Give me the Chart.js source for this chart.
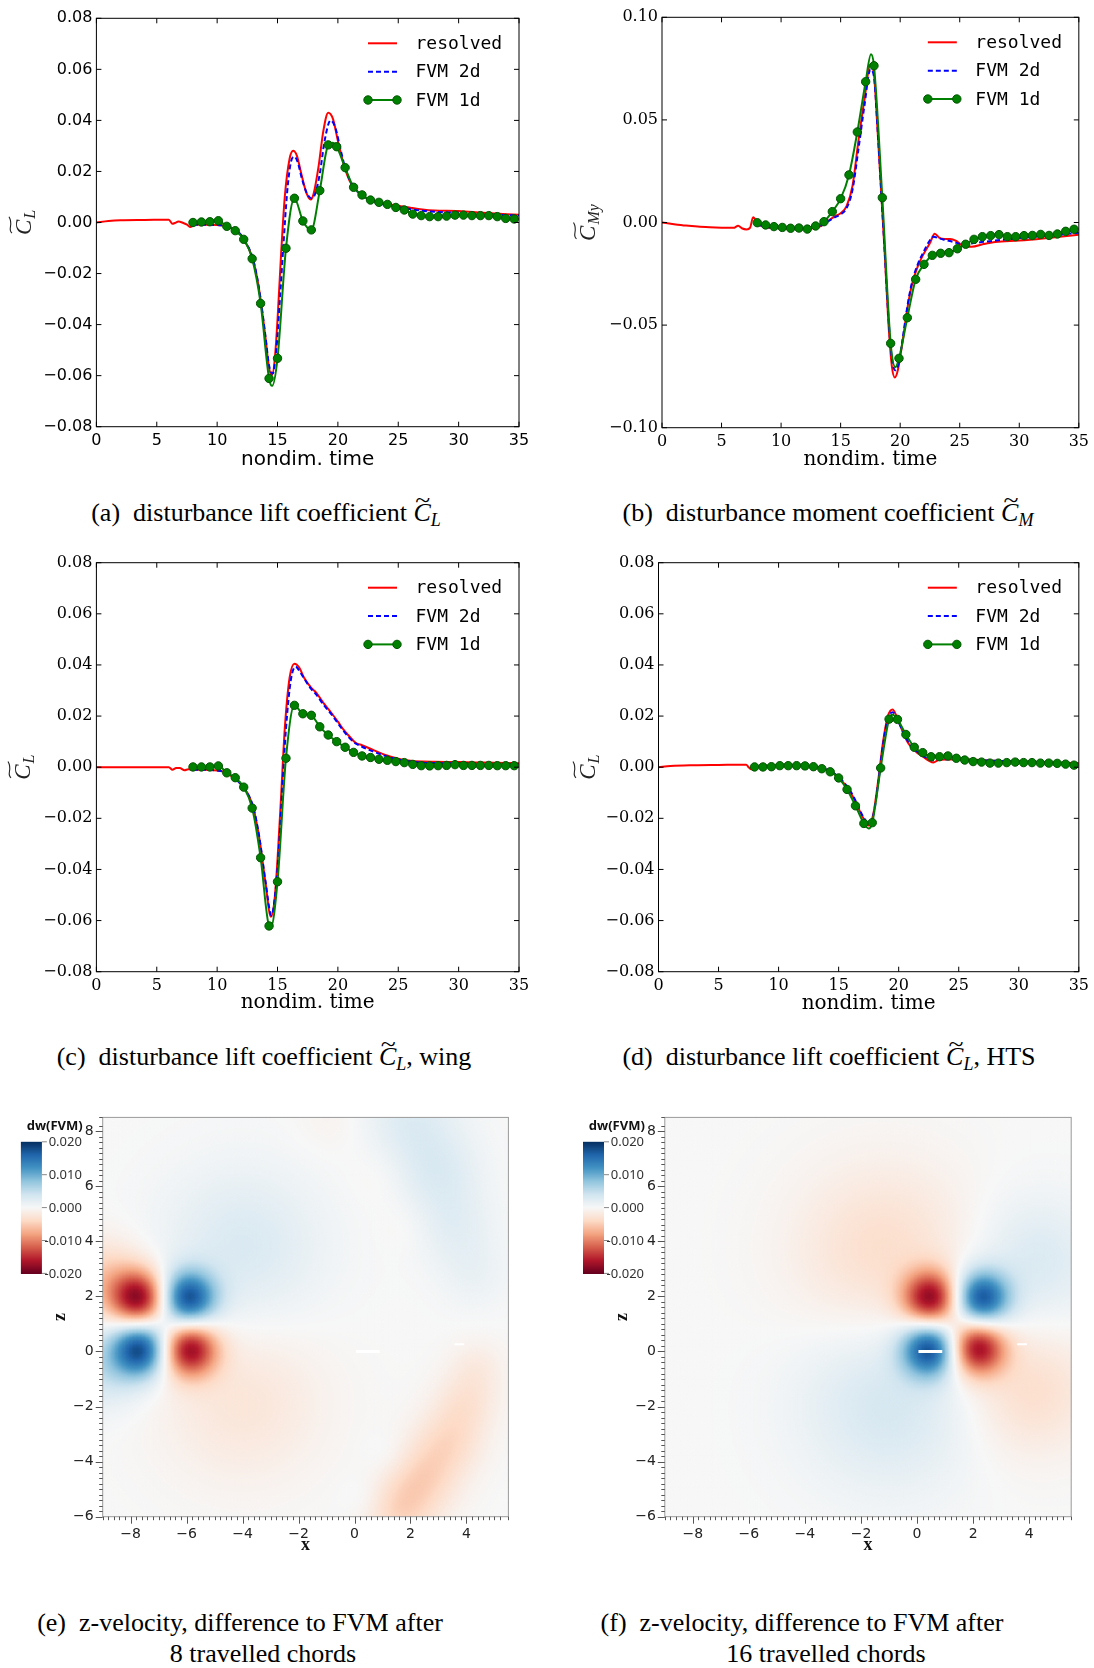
<!DOCTYPE html>
<html>
<head>
<meta charset="utf-8">
<title>disturbance coefficients</title>
<script src="https://cdn.jsdelivr.net/npm/chart.js@4.4.1/dist/chart.umd.min.js"></script>
<style>
  body { margin: 0; background: #fff; }
  #page { position: relative; width: 1094px; height: 1668px; overflow: hidden; background: #fff; }
  .box { position: absolute; }
  .cap { position: absolute; font-family: "Liberation Serif", "Times New Roman", serif; font-size: 26px; line-height: 30px; white-space: nowrap; transform: translateX(-50%); color: #000; }
  .cap sub { font-size: 18px; vertical-align: -5px; line-height: 0; }
  .tc { position: relative; display: inline-block; }
  .tc .tl { position: absolute; left: 3px; top: -13px; font-style: normal; font-size: 24px; transform: scaleX(1.15); }
</style>
</head>
<body>
<div id="page">
  <div class="box" style="left:0;top:0;width:547px;height:480px"><canvas id="chartA"></canvas></div>
  <div class="box" style="left:547px;top:0;width:547px;height:480px"><canvas id="chartB"></canvas></div>
  <div class="box" style="left:0;top:540px;width:547px;height:480px"><canvas id="chartC"></canvas></div>
  <div class="box" style="left:547px;top:540px;width:547px;height:480px"><canvas id="chartD"></canvas></div>
  <div class="box" style="left:0;top:1100px;width:547px;height:470px"><canvas id="chartE"></canvas></div>
  <div class="box" style="left:547px;top:1100px;width:547px;height:470px"><canvas id="chartF"></canvas></div>

  <div class="cap" style="left:266px;top:498px">(a)&nbsp; disturbance lift coefficient <span class="tc"><i>C</i><span class="tl">~</span></span><sub><i>L</i></sub></div>
  <div class="cap" style="left:828px;top:498px">(b)&nbsp; disturbance moment coefficient <span class="tc"><i>C</i><span class="tl">~</span></span><sub><i>M</i></sub></div>
  <div class="cap" style="left:264px;top:1042px">(c)&nbsp; disturbance lift coefficient <span class="tc"><i>C</i><span class="tl">~</span></span><sub><i>L</i></sub>, wing</div>
  <div class="cap" style="left:829px;top:1042px">(d)&nbsp; disturbance lift coefficient <span class="tc"><i>C</i><span class="tl">~</span></span><sub><i>L</i></sub>, HTS</div>
  <div class="cap" style="left:240px;top:1608px">(e)&nbsp; z-velocity, difference to FVM after</div>
  <div class="cap" style="left:263px;top:1639px">8 travelled chords</div>
  <div class="cap" style="left:802px;top:1608px">(f)&nbsp; z-velocity, difference to FVM after</div>
  <div class="cap" style="left:826px;top:1639px">16 travelled chords</div>
</div>

<script>
// FVM 1d output times (markers)
var markerT = [8.0, 8.7, 9.4, 10.1, 10.8, 11.5, 12.2, 12.9, 13.6, 14.3, 15.0, 15.7, 16.4, 17.1, 17.8, 18.5, 19.2, 19.9, 20.6,
  21.3, 22.0, 22.7, 23.4, 24.1, 24.8, 25.5, 26.2, 26.9, 27.6, 28.3, 29.0, 29.7, 30.4, 31.1, 31.8, 32.5, 33.2, 33.9, 34.6];

// (a) lift
var resTA = [0, 1, 2, 4, 6.0, 6.3, 6.5, 6.8, 7.2, 7.5, 7.8, 8.2, 9, 10, 11, 11.5, 12, 12.5, 13, 13.5, 14, 14.3, 14.55, 14.8, 15.0,
  15.3, 15.6, 16.0, 16.3, 16.6, 17.0, 17.4, 17.75, 18.0, 18.4, 18.8, 19.2, 19.6, 20.0, 20.5, 21.0, 21.5, 22, 23, 24, 25, 26, 27, 28, 30, 32, 35];
var resA = [0, 0.0006, 0.0009, 0.0010, 0.0011, -0.0005, -0.0002, 0.0004, -0.0002, -0.0008, -0.0018, -0.0008, -0.0009, -0.0010, -0.0016,
  -0.0030, -0.0050, -0.0090, -0.0150, -0.0270, -0.0450, -0.0570, -0.0598, -0.0520, -0.0380, -0.0120, 0.0100, 0.0250, 0.0281, 0.0262,
  0.0185, 0.0115, 0.0090, 0.0115, 0.0220, 0.0360, 0.0430, 0.0405, 0.0320, 0.0225, 0.0160, 0.0128, 0.0105, 0.0082, 0.0073, 0.0066,
  0.0058, 0.0051, 0.0047, 0.0045, 0.0038, 0.0030];
var fvm2TA = [8.0, 9, 10, 11, 11.5, 12, 12.5, 13, 13.5, 14, 14.3, 14.6, 14.9, 15.2, 15.5, 15.8, 16.1, 16.4, 16.7, 17.0, 17.4, 17.8,
  18.1, 18.5, 18.9, 19.4, 19.8, 20.2, 20.6, 21.0, 21.5, 22, 23, 24, 25, 26, 27, 28, 30, 32, 35];
var fvm2A = [-0.0008, -0.0009, -0.0010, -0.0016, -0.0030, -0.0050, -0.0088, -0.0148, -0.0268, -0.0445, -0.0560, -0.0592, -0.0500,
  -0.0300, -0.0080, 0.0120, 0.0235, 0.0258, 0.0232, 0.0175, 0.0118, 0.0095, 0.0110, 0.0190, 0.0320, 0.0400, 0.0370, 0.0290, 0.0215,
  0.0165, 0.0128, 0.0104, 0.0080, 0.0068, 0.0060, 0.0052, 0.0046, 0.0042, 0.0038, 0.0033, 0.0027];
var fvm1A = [0.0000, 0.0002, 0.0003, 0.0007, -0.0015, -0.0032, -0.0066, -0.0142, -0.0317, -0.0611, -0.0532, -0.0101, 0.0095, 0.0006,
  -0.0029, 0.0125, 0.0304, 0.0297, 0.0215, 0.0138, 0.0108, 0.0088, 0.0079, 0.0071, 0.0059, 0.0049, 0.0033, 0.0027, 0.0023, 0.0023,
  0.0025, 0.0029, 0.0029, 0.0027, 0.0027, 0.0027, 0.0023, 0.0016, 0.0014];
var fvm1ExtraTA = [14.55, 19.55];
var fvm1ExtraA = [-0.0640, 0.0312];

// (b) moment
var resTB = [0, 1, 2, 3, 4, 5, 6.0, 6.4, 6.7, 7.1, 7.4, 7.65, 7.9, 8.2, 8.6, 9, 10, 11, 12, 13, 13.5, 14, 14.5, 15, 15.5, 16.0, 16.5,
  17.0, 17.5, 17.8, 18.1, 18.4, 18.7, 19.0, 19.3, 19.55, 19.8, 20.2, 20.6, 21.0, 21.5, 22.0, 22.5, 22.9, 23.3, 23.7, 24.2, 24.7, 25.2,
  26, 27, 28, 30, 32, 35];
var resB = [0, -0.0008, -0.0015, -0.0020, -0.0023, -0.0025, -0.0026, -0.0016, -0.0028, -0.0034, -0.0025, 0.0025, 0.0010, -0.0012,
  -0.0022, -0.0026, -0.0028, -0.0030, -0.0030, -0.0025, -0.0012, 0.0010, 0.0030, 0.0045, 0.0080, 0.0180, 0.0400, 0.0600, 0.0770,
  0.0720, 0.0450, 0.0150, -0.0150, -0.0480, -0.0700, -0.0755, -0.0720, -0.0580, -0.0420, -0.0300, -0.0210, -0.0150, -0.0100, -0.0055,
  -0.0075, -0.0080, -0.0080, -0.0090, -0.0112, -0.0118, -0.0105, -0.0095, -0.0088, -0.0078, -0.0060];
var fvm2TB = [8.0, 9, 10, 11, 12, 13, 13.5, 14, 14.5, 15, 15.5, 16.0, 16.5, 17.0, 17.5, 17.8, 18.1, 18.4, 18.7, 19.0, 19.3, 19.6,
  19.9, 20.2, 20.6, 21.0, 21.5, 22.0, 22.4, 22.8, 23.3, 23.8, 24.5, 25.2, 26, 27, 28, 30, 32, 35];
var fvm2B = [-0.0010, -0.0024, -0.0027, -0.0029, -0.0029, -0.0024, -0.0012, 0.0008, 0.0025, 0.0040, 0.0070, 0.0160, 0.0360, 0.0570,
  0.0745, 0.0710, 0.0460, 0.0160, -0.0140, -0.0450, -0.0660, -0.0720, -0.0680, -0.0570, -0.0410, -0.0290, -0.0200, -0.0140, -0.0095,
  -0.0070, -0.0078, -0.0085, -0.0095, -0.0105, -0.0102, -0.0094, -0.0088, -0.0076, -0.0066, -0.0050];
var fvm1B = [-0.0001, -0.0012, -0.0020, -0.0024, -0.0028, -0.0027, -0.0032, -0.0017, 0.0004, 0.0053, 0.0116, 0.0232, 0.0441, 0.0686,
  0.0764, 0.0121, -0.0589, -0.0662, -0.0464, -0.0277, -0.0204, -0.0160, -0.0150, -0.0147, -0.0128, -0.0106, -0.0082, -0.0069, -0.0064,
  -0.0059, -0.0069, -0.0069, -0.0064, -0.0063, -0.0058, -0.0063, -0.0056, -0.0043, -0.0033];
var fvm1ExtraTB = [17.55, 19.6];
var fvm1ExtraB = [0.0820, -0.0705];

// (c) lift, wing
var resTC = [0, 2, 4, 6.0, 6.3, 6.6, 6.9, 7.3, 7.6, 8, 9, 10, 10.5, 11, 11.5, 12, 12.5, 13, 13.5, 14, 14.45, 14.75, 15.0, 15.3, 15.6,
  16.0, 16.4, 16.8, 17.2, 17.8, 18.2, 18.8, 19.5, 20.0, 20.5, 21.0, 21.5, 22, 23, 24, 25, 26, 27, 28, 30, 32, 35];
var resC = [0, 0, 0, 0, -0.0010, -0.0003, -0.0003, -0.0012, -0.0008, -0.0010, -0.0010, -0.0013, -0.0017, -0.0030, -0.0045, -0.0068,
  -0.0100, -0.0160, -0.0280, -0.0450, -0.0585, -0.0520, -0.0360, -0.0110, 0.0150, 0.0350, 0.0405, 0.0390, 0.0350, 0.0310, 0.0292,
  0.0252, 0.0210, 0.0178, 0.0145, 0.0118, 0.0094, 0.0086, 0.0066, 0.0047, 0.0033, 0.0025, 0.0022, 0.0021, 0.0020, 0.0018, 0.0015];
var fvm2TC = [8, 9, 10, 10.5, 11, 11.5, 12, 12.5, 13, 13.5, 14, 14.5, 14.8, 15.1, 15.4, 15.7, 16.1, 16.5, 16.9, 17.3, 17.8, 18.2,
  18.8, 19.5, 20.0, 20.5, 21.0, 21.5, 22, 23, 24, 25, 26, 27, 28, 30, 32, 35];
var fvm2C = [-0.0010, -0.0010, -0.0013, -0.0017, -0.0030, -0.0045, -0.0068, -0.0100, -0.0158, -0.0275, -0.0445, -0.0580, -0.0500,
  -0.0330, -0.0080, 0.0150, 0.0340, 0.0393, 0.0370, 0.0340, 0.0305, 0.0285, 0.0245, 0.0205, 0.0172, 0.0140, 0.0112, 0.0092, 0.0080,
  0.0060, 0.0043, 0.0030, 0.0022, 0.0018, 0.0016, 0.0015, 0.0014, 0.0013];
var fvm1C = [0.0001, 0.0001, 0.0001, 0.0005, -0.0022, -0.0041, -0.0078, -0.0160, -0.0354, -0.0621, -0.0448, 0.0035, 0.0242, 0.0209,
  0.0203, 0.0158, 0.0126, 0.0100, 0.0078, 0.0058, 0.0044, 0.0038, 0.0031, 0.0027, 0.0022, 0.0018, 0.0011, 0.0006, 0.0005, 0.0006,
  0.0007, 0.0010, 0.0007, 0.0007, 0.0007, 0.0007, 0.0006, 0.0006, 0.0006];
var fvm1ExtraTC = [14.45];
var fvm1ExtraC = [-0.0626];

// (d) lift, HTS
var resTD = [0, 1, 3, 5, 7.3, 7.5, 7.7, 8.0, 8.5, 10, 12, 13, 14, 15, 16, 16.5, 17.0, 17.5, 17.9, 18.3, 18.7, 19.1, 19.5, 19.9, 20.5,
  21.0, 21.5, 22, 22.5, 22.9, 23.3, 24, 25, 26, 28, 30, 35];
var resD = [0, 0.0005, 0.0008, 0.0009, 0.0010, 0.0000, -0.0008, -0.0005, 0.0003, 0.0007, 0.0006, 0.0003, -0.0010, -0.0040, -0.0100,
  -0.0145, -0.0195, -0.0228, -0.0180, -0.0050, 0.0100, 0.0200, 0.0226, 0.0190, 0.0120, 0.0080, 0.0058, 0.0042, 0.0026, 0.0018, 0.0028,
  0.0030, 0.0031, 0.0030, 0.0025, 0.0022, 0.0015];
var fvm2TD = [8, 10, 12, 13, 14, 15, 16, 16.5, 17.0, 17.5, 17.9, 18.3, 18.7, 19.1, 19.5, 19.9, 20.5, 21.0, 21.5, 22, 22.5, 23.0, 23.5,
  24, 25, 26, 28, 30, 35];
var fvm2D = [0.0001, 0.0006, 0.0006, 0.0003, -0.0008, -0.0038, -0.0095, -0.0140, -0.0190, -0.0220, -0.0185, -0.0060, 0.0090, 0.0190,
  0.0215, 0.0185, 0.0125, 0.0085, 0.0062, 0.0046, 0.0032, 0.0026, 0.0030, 0.0031, 0.0031, 0.0029, 0.0025, 0.0022, 0.0015];
var fvm1D = [0.0001, 0.0001, 0.0002, 0.0006, 0.0006, 0.0006, 0.0005, 0.0002, -0.0006, -0.0018, -0.0042, -0.0087, -0.0151, -0.0220,
  -0.0217, -0.0003, 0.0188, 0.0187, 0.0128, 0.0078, 0.0057, 0.0041, 0.0041, 0.0044, 0.0035, 0.0028, 0.0022, 0.0020, 0.0016, 0.0016,
  0.0018, 0.0020, 0.0018, 0.0018, 0.0016, 0.0016, 0.0015, 0.0012, 0.0008];
var fvm1ExtraTD = [17.5, 19.5];
var fvm1ExtraD = [-0.0240, 0.0205];

// (e)/(f) dw field, features: [x, z, dw, radius]
var blobsE = [
  [-7.7, 1.95, -0.0172, 0.7], [-5.95, 1.95, 0.0172, 0.7], [-7.65, 0.1, 0.0172, 0.7], [-5.9, 0.1, -0.0172, 0.7],
  [-4.0, 3.8, 0.0030, 2.0], [-4.0, -1.8, -0.0025, 2.0], [-8.9, 2.6, -0.0050, 1.0], [-8.9, -0.5, 0.0045, 1.0],
  [2.0, 8.5, 0.0025, 1.2], [3.0, 6.5, 0.0025, 1.1], [3.6, 4.5, 0.0018, 1.0], [4.3, 2.8, 0.0012, 0.9],
  [-0.8, 8.4, -0.0007, 0.9], [0.9, 6.4, -0.0006, 0.8], [1.8, 4.6, -0.0005, 0.7],
  [1.6, -5.8, -0.0040, 0.9], [2.5, -4.5, -0.0038, 0.9], [3.4, -3.2, -0.0032, 0.85], [4.0, -1.8, -0.0025, 0.8], [4.4, -0.5, -0.0015, 0.7],
  [0.4, -5.3, 0.0010, 0.6], [1.2, -3.8, 0.0008, 0.6]
];
var blobsF = [
  [0.5, 1.95, -0.0172, 0.7], [2.3, 1.95, 0.0172, 0.7], [0.45, 0.1, 0.0172, 0.7], [2.15, 0.15, -0.0172, 0.7],
  [-1.2, 3.6, -0.0035, 2.2], [-1.0, -1.8, 0.0035, 2.2], [4.2, 3.3, 0.0030, 1.6], [4.0, -1.4, -0.0035, 1.6]
];
var wingX = [0.05, 0.9], wingZ = [0.0, 0.0];
var htsX = [3.57, 3.92], htsZ = [0.26, 0.26];
var dwTicks = [0.02, 0.01, 0.0, -0.01, -0.02];
var rdbu = ['#67001f', '#b2182b', '#d6604d', '#f4a582', '#fddbc7', '#f7f7f7', '#d1e5f0', '#92c5de', '#4393c3', '#2166ac', '#053061'];

Chart.defaults.animation = false;

var rdbuRGB = rdbu.map(function(h) {
  return [parseInt(h.slice(1, 3), 16), parseInt(h.slice(3, 5), 16), parseInt(h.slice(5, 7), 16)];
});

function colorFor(v) {
  var t = (v + 0.02) / 0.04;
  t = Math.max(0, Math.min(1, t));
  var f = t * 10, i = Math.min(9, Math.floor(f)), r = f - i;
  var a = rdbuRGB[i], b = rdbuRGB[i + 1];
  return 'rgb(' + Math.round(a[0] + (b[0] - a[0]) * r) + ',' + Math.round(a[1] + (b[1] - a[1]) * r) + ',' +
    Math.round(a[2] + (b[2] - a[2]) * r) + ')';
}

function fieldAt(blobs, x, z) {
  var s = 0;
  for (var k = 0; k < blobs.length; k++) {
    var b = blobs[k], dx = x - b[0], dz = z - b[1];
    s += b[2] * Math.exp(-(dx * dx + dz * dz) / (2 * b[3] * b[3]));
  }
  return s;
}

function pts(t, v) {
  return t.map(function(x, i) { return {x: x, y: v[i]}; });
}

function withMarkers(mv, et, ev) {
  var p = markerT.map(function(t, i) { return {x: t, y: mv[i], m: true}; });
  et.forEach(function(t, i) { p.push({x: t, y: ev[i], m: false}); });
  p.sort(function(a, b) { return a.x - b.x; });
  return p;
}

function fmtCoef(v) {
  if (Math.abs(v) < 1e-9) return '0.00';
  var s = Math.abs(v).toFixed(2);
  return v < 0 ? '\u2212' + s : s;
}

// box + inward ticks on all four sides
var framePlugin = {
  id: 'frame',
  afterDatasetsDraw: function(chart) {
    var ctx = chart.ctx, a = chart.chartArea, sx = chart.scales.x, sy = chart.scales.y;
    ctx.save();
    ctx.strokeStyle = '#000';
    ctx.lineWidth = 1;
    ctx.strokeRect(a.left, a.top, a.width, a.height);
    ctx.beginPath();
    sx.ticks.forEach(function(t) {
      var px = sx.getPixelForValue(t.value);
      ctx.moveTo(px, a.bottom); ctx.lineTo(px, a.bottom - 5);
      ctx.moveTo(px, a.top); ctx.lineTo(px, a.top + 5);
    });
    sy.ticks.forEach(function(t) {
      var py = sy.getPixelForValue(t.value);
      ctx.moveTo(a.left, py); ctx.lineTo(a.left + 5, py);
      ctx.moveTo(a.right, py); ctx.lineTo(a.right - 5, py);
    });
    ctx.stroke();
    ctx.restore();
  }
};

var keyPlugin = {
  id: 'key',
  afterDraw: function(chart) {
    var ctx = chart.ctx, a = chart.chartArea;
    var rows = [25, 53.4, 81.7];
    chart.data.datasets.forEach(function(ds, i) {
      var y = a.top + rows[i], x0 = a.right - 151, x1 = a.right - 122;
      ctx.save();
      ctx.strokeStyle = ds.borderColor;
      ctx.lineWidth = ds.borderWidth;
      ctx.setLineDash(ds.borderDash || []);
      ctx.beginPath(); ctx.moveTo(x0, y); ctx.lineTo(x1, y); ctx.stroke();
      ctx.setLineDash([]);
      if (ds.showMarks) {
        [x0, x1].forEach(function(x) {
          ctx.beginPath(); ctx.arc(x, y, 4.2, 0, Math.PI * 2);
          ctx.fillStyle = ds.backgroundColor; ctx.fill();
          ctx.lineWidth = 1; ctx.strokeStyle = ds.pointBorderColor; ctx.stroke();
        });
      }
      ctx.fillStyle = '#000';
      ctx.font = "18px 'DejaVu Sans Mono'";
      ctx.textBaseline = 'middle';
      ctx.fillText(ds.label, a.right - 103.5, y + 1);
      ctx.restore();
    });
  }
};

// rotated C~ with subscript
var ylabPlugin = {
  id: 'ylab',
  afterDraw: function(chart, args, o) {
    var ctx = chart.ctx, a = chart.chartArea;
    ctx.save();
    ctx.translate(o.x, (a.top + a.bottom) / 2);
    ctx.rotate(-Math.PI / 2);
    ctx.fillStyle = '#222';
    ctx.strokeStyle = '#222';
    ctx.font = "italic 23px 'Liberation Serif'";
    var wC = ctx.measureText('C').width;
    ctx.font = "italic 16px 'Liberation Serif'";
    var wS = ctx.measureText(o.sub).width;
    var x = -(wC + 1 + wS) / 2;
    ctx.font = "italic 23px 'Liberation Serif'";
    ctx.fillText('C', x, 7);
    ctx.font = "italic 16px 'Liberation Serif'";
    ctx.fillText(o.sub, x + wC + 1, 11);
    var ty = 7 - 16 - 4;
    ctx.lineWidth = 1.1;
    ctx.beginPath();
    ctx.moveTo(x + 2, ty + 1.5);
    ctx.bezierCurveTo(x + wC * 0.4, ty - 3.5, x + wC * 0.65, ty + 3.5, x + wC + 3, ty - 1.5);
    ctx.stroke();
    ctx.restore();
  }
};

function makeLineChart(id, c) {
  var ctx = document.getElementById(id).getContext('2d');
  return new Chart(ctx, {
    type: 'line',
    data: {
      datasets: [
        {label: 'resolved', data: pts(c.resT, c.res), borderColor: '#ff0000', borderWidth: 2, pointRadius: 0,
          cubicInterpolationMode: 'monotone', order: 3},
        {label: 'FVM 2d', data: pts(c.fvm2T, c.fvm2), borderColor: '#0000ff', borderDash: [5, 3], borderWidth: 2,
          pointRadius: 0, cubicInterpolationMode: 'monotone', order: 2},
        {label: 'FVM 1d', data: withMarkers(c.fvm1, c.exT, c.ex), borderColor: '#008000', backgroundColor: '#008000',
          pointBackgroundColor: '#008000', pointBorderColor: '#005500', pointBorderWidth: 1, borderWidth: 2, showMarks: true,
          pointRadius: function(k) { return k.raw && k.raw.m ? 4.2 : 0; },
          cubicInterpolationMode: 'monotone', order: 1}
      ]
    },
    options: {
      responsive: true,
      maintainAspectRatio: false,
      layout: {padding: {top: c.top, right: c.right, left: 0, bottom: 0}},
      plugins: {legend: {display: false}, tooltip: {enabled: false}, ylab: {x: c.labX, sub: c.sub}},
      scales: {
        x: {
          type: 'linear', min: 0, max: 35,
          afterFit: function(s) { s.height = c.xh; },
          grid: {display: false, drawTicks: false}, border: {display: false},
          ticks: {stepSize: 5, maxRotation: 0, padding: 5, color: '#000', font: {family: c.font, size: 16}},
          title: {display: true, text: 'nondim. time', color: '#000', font: {family: c.font, size: 20},
            padding: {top: 0, bottom: c.tpad}}
        },
        y: {
          type: 'linear', min: c.ymin, max: c.ymax,
          afterFit: function(s) { s.width = c.yw; },
          grid: {display: false, drawTicks: false}, border: {display: false},
          ticks: {stepSize: c.ystep, padding: 4, color: '#000', font: {family: c.font, size: 16}, callback: fmtCoef}
        }
      }
    },
    plugins: [framePlugin, keyPlugin, ylabPlugin]
  });
}

makeLineChart('chartA', {resT: resTA, res: resA, fvm2T: fvm2TA, fvm2: fvm2A, fvm1: fvm1A, exT: fvm1ExtraTA, ex: fvm1ExtraA,
  top: 18.3, right: 28, yw: 96.4, xh: 53.3, tpad: 8, font: 'DejaVu Sans', ymin: -0.08, ymax: 0.08, ystep: 0.02, labX: 23.5, sub: 'L'});
makeLineChart('chartB', {resT: resTB, res: resB, fvm2T: fvm2TB, fvm2: fvm2B, fvm1: fvm1B, exT: fvm1ExtraTB, ex: fvm1ExtraB,
  top: 17.3, right: 13, yw: 115, xh: 52.3, tpad: 8, font: 'DejaVu Serif', ymin: -0.1, ymax: 0.1, ystep: 0.05, labX: 41, sub: 'My'});
makeLineChart('chartC', {resT: resTC, res: resC, fvm2T: fvm2TC, fvm2: fvm2C, fvm1: fvm1C, exT: fvm1ExtraTC, ex: fvm1ExtraC,
  top: 22.7, right: 28, yw: 96.4, xh: 48.3, tpad: 5, font: 'DejaVu Serif', ymin: -0.08, ymax: 0.08, ystep: 0.02, labX: 22.5, sub: 'L'});
makeLineChart('chartD', {resT: resTD, res: resD, fvm2T: fvm2TD, fvm2: fvm2D, fvm1: fvm1D, exT: fvm1ExtraTD, ex: fvm1ExtraD,
  top: 22.7, right: 13, yw: 111.5, xh: 48.3, tpad: 4, font: 'DejaVu Serif', ymin: -0.08, ymax: 0.08, ystep: 0.02, labX: 40.5, sub: 'L'});

// ---------- dw field maps ----------
function isMajor(v) { return Math.round(v * 10) % 20 === 0; }

function fieldTick(v) {
  if (!isMajor(v)) return '';
  var n = Math.round(v);
  return n < 0 ? '\u2212' + (-n) : String(n);
}

var heatPlugin = {
  id: 'heat',
  beforeDatasetsDraw: function(chart, args, o) {
    var ctx = chart.ctx, a = chart.chartArea, sx = chart.scales.x, sy = chart.scales.y;
    var step = 0.05;
    var nx = Math.ceil((sx.max - sx.min) / step), nz = Math.ceil((sy.max - sy.min) / step);
    ctx.save();
    ctx.beginPath(); ctx.rect(a.left, a.top, a.width, a.height); ctx.clip();
    for (var i = 0; i < nx; i++) {
      var x0 = sx.min + i * step;
      var px0 = sx.getPixelForValue(x0), px1 = sx.getPixelForValue(x0 + step);
      for (var j = 0; j < nz; j++) {
        var z0 = sy.min + j * step;
        var py0 = sy.getPixelForValue(z0 + step), py1 = sy.getPixelForValue(z0);
        ctx.fillStyle = colorFor(fieldAt(o.blobs, x0 + step / 2, z0 + step / 2));
        ctx.fillRect(px0, py0, px1 - px0 + 0.7, py1 - py0 + 0.7);
      }
    }
    ctx.restore();
  },
  afterDraw: function(chart) {
    var ctx = chart.ctx, a = chart.chartArea, sx = chart.scales.x, sy = chart.scales.y;
    ctx.save();
    // frame
    ctx.strokeStyle = '#9a9a9a';
    ctx.lineWidth = 1;
    ctx.strokeRect(a.left, a.top, a.width, a.height);
    // outward ticks, left and bottom
    ctx.strokeStyle = '#555';
    ctx.beginPath();
    sx.ticks.forEach(function(t) {
      var px = Math.round(sx.getPixelForValue(t.value)) + 0.5, L = isMajor(t.value) ? 7 : 3.5;
      ctx.moveTo(px, a.bottom); ctx.lineTo(px, a.bottom + L);
    });
    sy.ticks.forEach(function(t) {
      var py = Math.round(sy.getPixelForValue(t.value)) + 0.5, L = isMajor(t.value) ? 7 : 3.5;
      ctx.moveTo(a.left, py); ctx.lineTo(a.left - L, py);
    });
    ctx.stroke();
    // axis names
    ctx.fillStyle = '#111';
    ctx.font = "bold 18px 'Liberation Serif'";
    ctx.textAlign = 'center';
    ctx.textBaseline = 'middle';
    ctx.fillText('x', (a.left + a.right) / 2, a.bottom + 28.3);
    ctx.translate(a.left - 42.5, (a.top + a.bottom) / 2);
    ctx.rotate(-Math.PI / 2);
    ctx.fillText('z', 0, 0);
    ctx.restore();

    // colour bar
    var cbL = a.left - 81.8, cbR = cbL + 21, cbT = a.top + 24.4, cbB = a.top + 156;
    ctx.save();
    for (var yy = cbT; yy < cbB; yy++) {
      var v = 0.02 - 0.04 * (yy + 0.5 - cbT) / (cbB - cbT);
      ctx.fillStyle = colorFor(v);
      ctx.fillRect(cbL, yy, cbR - cbL, 1.2);
    }
    ctx.strokeStyle = '#888';
    ctx.fillStyle = '#333';
    ctx.font = "13px 'Noto Sans'";
    ctx.textAlign = 'right';
    ctx.textBaseline = 'middle';
    dwTicks.forEach(function(v) {
      var py = cbT + (0.02 - v) / 0.04 * (cbB - cbT);
      ctx.beginPath(); ctx.moveTo(cbR, py); ctx.lineTo(cbR + 5, py); ctx.stroke();
      var s = Math.abs(v).toFixed(3);
      ctx.fillText(v < 0 ? '-' + s : s, cbL + 61, py + 0.5);
    });
    ctx.fillStyle = '#111';
    ctx.font = "bold 13px 'Noto Sans'";
    ctx.textAlign = 'center';
    ctx.fillText('dw(FVM)', a.left - 48, a.top + 8.4);
    ctx.restore();
  }
};

function makeFieldChart(id, c) {
  var ctx = document.getElementById(id).getContext('2d');
  var tickFont = {family: 'DejaVu Sans', size: 14};
  return new Chart(ctx, {
    type: 'line',
    data: {
      datasets: [
        {label: 'wing', data: pts(c.wingX, c.wingZ), borderColor: '#ffffff', borderWidth: 3, pointRadius: 0},
        {label: 'HTS', data: pts(c.htsX, c.htsZ), borderColor: '#ffffff', borderWidth: 2, pointRadius: 0}
      ]
    },
    options: {
      responsive: true,
      maintainAspectRatio: false,
      layout: {padding: {top: 13.3, right: c.right, left: 0, bottom: 0}},
      plugins: {legend: {display: false}, tooltip: {enabled: false}, heat: {blobs: c.blobs}},
      scales: {
        x: {
          type: 'linear', min: -9, max: 5.5,
          afterFit: function(s) { s.height = 53.3; },
          grid: {display: false, drawTicks: false}, border: {display: false},
          ticks: {stepSize: 0.2, autoSkip: false, maxRotation: 0, padding: 9, color: '#222', font: tickFont, callback: fieldTick}
        },
        y: {
          type: 'linear', min: -6, max: 8.5,
          afterFit: function(s) { s.width = c.left; },
          grid: {display: false, drawTicks: false}, border: {display: false},
          ticks: {stepSize: 0.2, autoSkip: false, padding: 9, color: '#222', font: tickFont, callback: fieldTick}
        }
      }
    },
    plugins: [heatPlugin]
  });
}

makeFieldChart('chartE', {blobs: blobsE, wingX: wingX, wingZ: wingZ, htsX: htsX, htsZ: htsZ, left: 102.7, right: 38.6});
makeFieldChart('chartF', {blobs: blobsF, wingX: wingX, wingZ: wingZ, htsX: htsX, htsZ: htsZ, left: 117.8, right: 22.8});
</script>
</body>
</html>
